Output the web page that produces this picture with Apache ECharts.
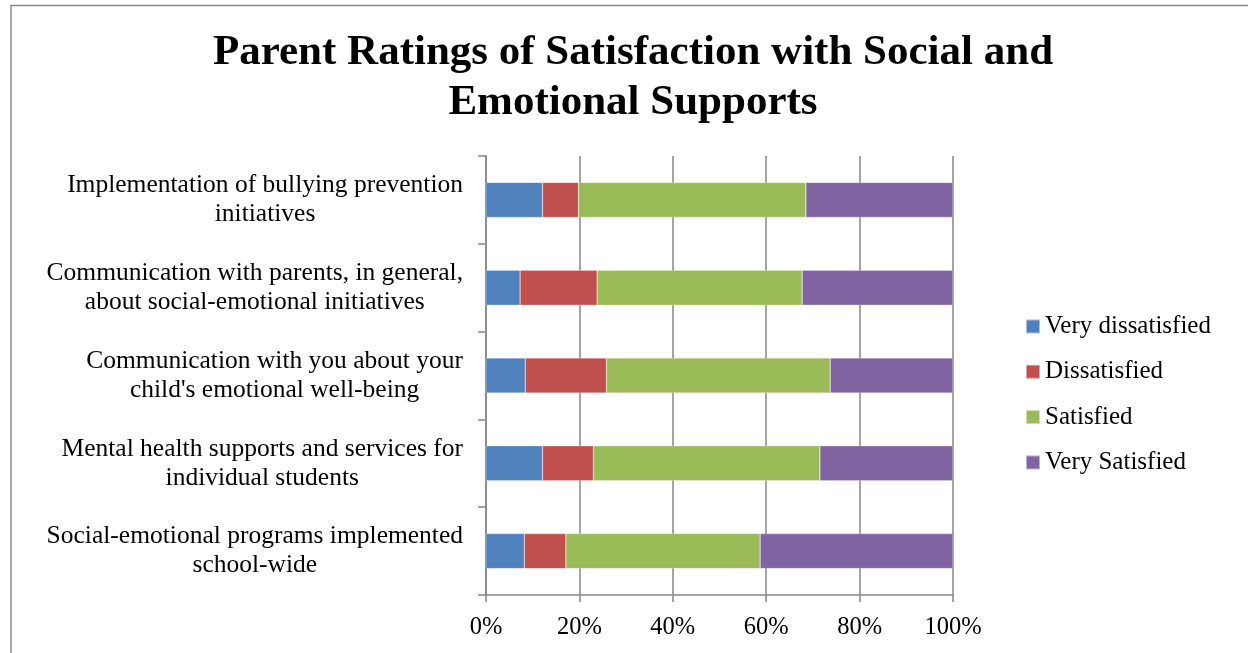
<!DOCTYPE html>
<html>
<head>
<meta charset="utf-8">
<script src="https://cdn.jsdelivr.net/npm/echarts@6/dist/echarts.min.js"></script>
<style>
  html, body { margin: 0; padding: 0; background: #fff; }
  #chart { width: 1248px; height: 653px; }
</style>
</head>
<body>
<div id="chart"></div>
<script>
  // rows listed top to bottom
  var categories = [
    'Implementation of bullying prevention\ninitiatives',
    'Communication with parents, in general,\nabout social-emotional initiatives',
    'Communication with you about your\nchild\'s emotional well-being',
    'Mental health supports and services for\nindividual students',
    'Social-emotional programs implemented\nschool-wide'
  ];
  var seriesNames = ['Very dissatisfied', 'Dissatisfied', 'Satisfied', 'Very Satisfied'];
  var veryDissatisfied = [12.1, 7.3, 8.4, 12.1, 8.2];
  var dissatisfied = [7.7, 16.5, 17.4, 10.9, 8.9];
  var satisfied = [48.7, 43.9, 47.9, 48.5, 41.6];
  var verySatisfied = [31.5, 32.3, 26.3, 28.5, 41.3];
  var xTicks = [0, 20, 40, 60, 80, 100];

  var colors = ['#4F81BD', '#C0504D', '#9BBB59', '#8064A2'];
  var font = '"Liberation Serif", "Times New Roman", serif';
  var axisGray = '#868686';

  var chart = echarts.init(document.getElementById('chart'));

  var values = [veryDissatisfied, dissatisfied, satisfied, verySatisfied];
  var series = values.map(function (v, i) {
    return {
      name: seriesNames[i],
      type: 'bar',
      stack: 'total',
      barWidth: 35,
      data: v,
      itemStyle: { color: colors[i], borderColor: 'rgba(255,255,255,0.5)', borderWidth: 0.5 },
      animation: false
    };
  });

  chart.setOption({
    backgroundColor: '#FFFFFF',
    animation: false,
    title: {
      text: 'Parent Ratings of Satisfaction with Social and\nEmotional Supports',
      left: 628,
      top: 23,
      textAlign: 'center',
      textStyle: {
        fontFamily: font,
        fontWeight: 'bold',
        fontSize: 43,
        lineHeight: 50,
        color: '#000'
      }
    },
    legend: {
      orient: 'vertical',
      left: 1020,
      top: 309,
      itemWidth: 14,
      itemHeight: 14,
      itemGap: 20.3,
      icon: 'rect',
      data: seriesNames,
      textStyle: { fontFamily: font, fontSize: 25, lineHeight: 25, color: '#000' }
    },
    grid: { left: 486, right: 295, top: 156, bottom: 58, containLabel: false },
    xAxis: {
      type: 'value',
      min: 0,
      max: 100,
      interval: 20,
      axisLine: { show: true, lineStyle: { color: axisGray, width: 1.5 } },
      axisTick: { show: true, length: 7, lineStyle: { color: axisGray, width: 1.5 } },
      splitLine: { show: true, lineStyle: { color: axisGray, width: 1.5 } },
      axisLabel: {
        margin: 20,
        fontFamily: font,
        fontSize: 24.5,
        color: '#000',
        formatter: function (v) { return xTicks.indexOf(v) >= 0 ? v + '%' : ''; }
      }
    },
    yAxis: {
      type: 'category',
      inverse: true,
      data: categories,
      axisLine: { show: true, lineStyle: { color: axisGray, width: 1.5 } },
      axisTick: { show: true, length: 8, lineStyle: { color: axisGray, width: 1.5 } },
      axisLabel: {
        margin: 23,
        align: 'right',
        formatter: function (v) {
          return v.split('\n').map(function (line) { return '{c|' + line + '}'; }).join('\n');
        },
        rich: {
          c: {
            align: 'center',
            fontFamily: font,
            fontSize: 25.5,
            lineHeight: 29,
            color: '#000'
          }
        }
      }
    },
    graphic: [{
      type: 'rect',
      silent: true,
      shape: { x: 11, y: 5.5, width: 1400, height: 800 },
      style: { fill: 'none', stroke: '#8a8a8a', lineWidth: 1.5 }
    }],
    series: series
  });
</script>
</body>
</html>
